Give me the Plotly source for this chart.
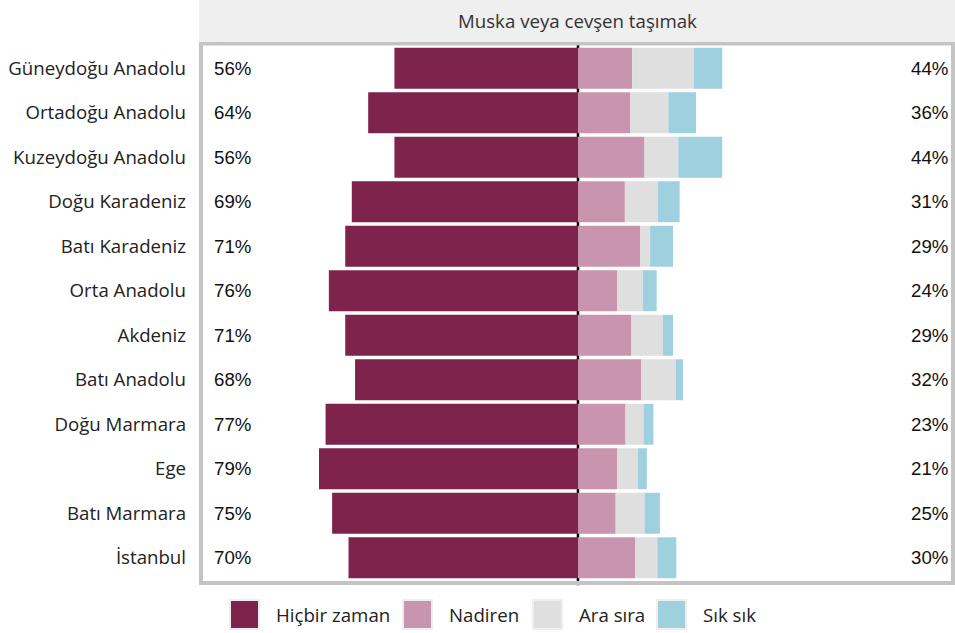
import plotly.graph_objects as go

regions = ["Güneydoğu Anadolu", "Ortadoğu Anadolu", "Kuzeydoğu Anadolu", "Doğu Karadeniz",
           "Batı Karadeniz", "Orta Anadolu", "Akdeniz", "Batı Anadolu", "Doğu Marmara",
           "Ege", "Batı Marmara", "İstanbul"]

hicbir = [56, 64, 56, 69, 71, 76, 71, 68, 77, 79, 75, 70]
nadiren = [16.5, 16.0, 20.3, 14.3, 19.0, 12.0, 16.3, 19.3, 14.5, 12.0, 11.5, 17.5]
ara_sira = [18.9, 11.6, 10.3, 10.1, 3.0, 7.8, 9.6, 10.5, 5.5, 6.3, 8.8, 6.7]
sik_sik = [8.6, 8.4, 13.4, 6.6, 7.0, 4.2, 3.1, 2.2, 3.0, 2.7, 4.7, 5.8]

left_labels = ["56%", "64%", "56%", "69%", "71%", "76%", "71%", "68%", "77%", "79%", "75%", "70%"]
right_labels = ["44%", "36%", "44%", "31%", "29%", "24%", "29%", "32%", "23%", "21%", "25%", "30%"]

series_names = ["Hiçbir zaman", "Nadiren", "Ara sıra", "Sık sık"]
colors = ["#7e244c", "#c994ae", "#dfdfdf", "#9ed0e0"]

title = "Muska veya cevşen taşımak"
font_main = "Open Sans"
fs = 18.67  # 14pt

fig = go.Figure()

# sol taraf negatif, sağ taraf üst üste
fig.add_trace(go.Bar(y=regions, x=[-v for v in hicbir], orientation="h",
                     marker=dict(color=colors[0], line=dict(width=0)), name=series_names[0]))
for vals, nm, col in zip([nadiren, ara_sira, sik_sik], series_names[1:], colors[1:]):
    fig.add_trace(go.Bar(y=regions, x=vals, orientation="h",
                         marker=dict(color=col, line=dict(width=0)), name=nm))

# yüzde etiketleri
for r, lt, rt in zip(regions, left_labels, right_labels):
    fig.add_annotation(x=-111.7, y=r, text=lt, xanchor="left", showarrow=False,
                       font=dict(family="Liberation Sans", size=fs, color="#111"))
    fig.add_annotation(x=113.4, y=r, text=rt, xanchor="right", showarrow=False,
                       font=dict(family="Liberation Sans", size=fs, color="#111"))

# sıfır çizgisi
fig.add_shape(type="line", x0=0, x1=0, xref="x", y0=-0.01, y1=1.01, yref="paper",
              line=dict(color="black", width=2.5), layer="below")

# panel çerçevesi
fig.add_shape(type="rect", xref="paper", yref="paper", x0=0, x1=1, y0=-0.0056, y1=1.0047,
              line=dict(color="#c4c4c4", width=4), fillcolor="rgba(0,0,0,0)")

# başlık şeridi
fig.add_shape(type="rect", xref="paper", yref="paper", x0=-0.0027, x1=1.003, y0=1.0075, y1=1.09,
              line=dict(width=0), fillcolor="#efefef")
fig.add_annotation(x=0.5, y=1.0475, xref="paper", yref="paper", text=title, showarrow=False,
                   xanchor="center", yanchor="middle",
                   font=dict(family=font_main, size=fs, color="#333"))

# elle çizilen açıklama
plot_l, plot_w, plot_b, plot_h = 201, 752, 580, 534
sq_x = [230, 403, 533, 657]
for name, col, px in zip(series_names, colors, sq_x):
    fig.add_shape(type="rect", xref="paper", yref="paper",
                  x0=(px - plot_l) / plot_w, x1=(px + 29 - plot_l) / plot_w,
                  y0=(plot_b - 629) / plot_h, y1=(plot_b - 600) / plot_h,
                  line=dict(color="#eeeeee", width=2), fillcolor=col)
    fig.add_annotation(x=(px + 44 - plot_l) / plot_w, y=(plot_b - 614) / plot_h,
                       xref="paper", yref="paper", text=name, showarrow=False,
                       xanchor="left", yanchor="middle",
                       font=dict(family=font_main, size=fs, color="#222"))

fig.update_layout(
    width=955, height=633,
    margin=dict(l=201, r=2, t=46, b=53),
    barmode="relative", bargap=0.08,
    plot_bgcolor="white", paper_bgcolor="white",
    showlegend=False,
    xaxis=dict(range=[-115, 114.4], showgrid=False, zeroline=False, showticklabels=False, fixedrange=True),
    yaxis=dict(categoryorder="array", categoryarray=regions, autorange="reversed",
               showgrid=False, zeroline=False, ticklabelstandoff=14,
               tickfont=dict(family=font_main, size=fs, color="#222")),
)

fig.write_html("out.html", config={"displayModeBar": False},
               post_script="document.body.style.margin='0';")
